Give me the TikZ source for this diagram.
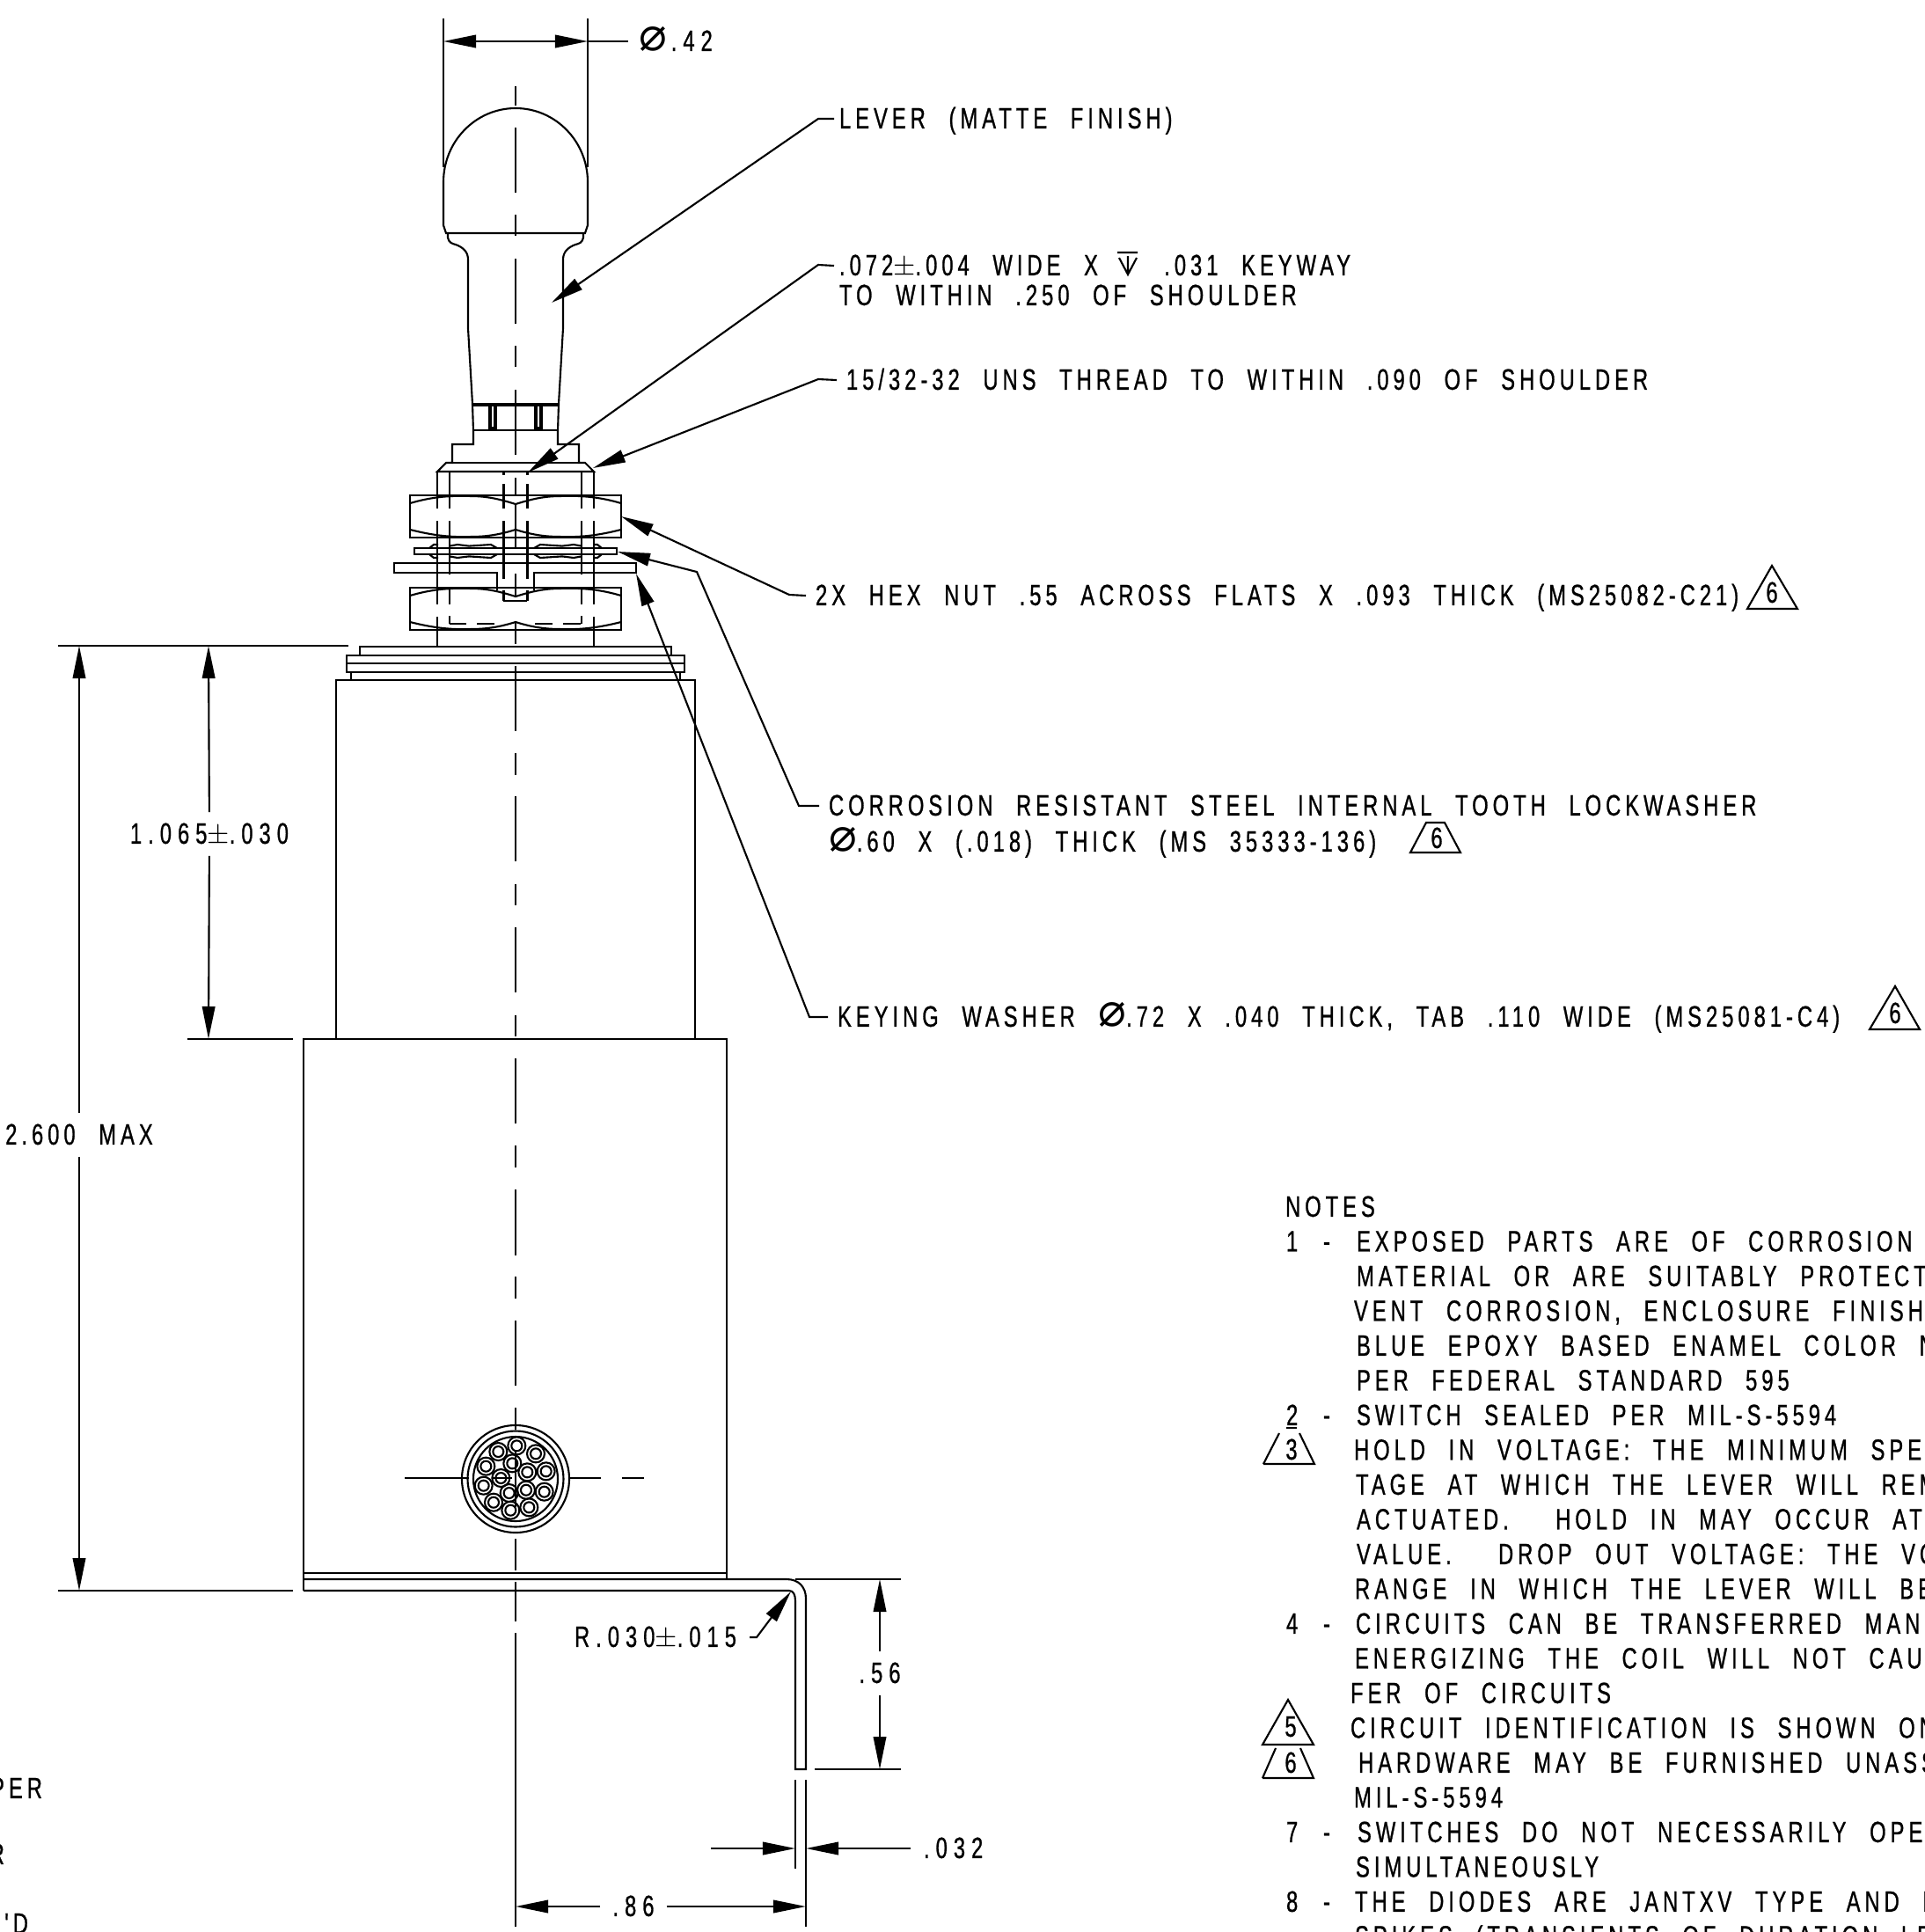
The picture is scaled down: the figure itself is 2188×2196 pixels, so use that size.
\documentclass[tikz,border=0pt]{standalone}
\usepackage{amsmath}
\usepackage{amssymb}
\usepackage{fontspec}
\usepackage{xcolor}
\usetikzlibrary{arrows.meta}
\newfontfamily\dwgfont[LetterSpace=15,FakeStretch=0.71,WordSpace=2.3,FakeBold=0.8]{Liberation Sans}
\newfontfamily\valfont[LetterSpace=21,FakeStretch=0.71,WordSpace=2.3,FakeBold=0.8]{Liberation Sans}
\newfontfamily\symfont{DejaVu Sans}
\newcommand{\dwgtext}{\dwgfont\fontsize{9.5pt}{11pt}\selectfont}
\newcommand{\valtext}{\valfont\fontsize{9.5pt}{11pt}\selectfont}
\newcommand{\dia}{{\symfont\fontsize{15pt}{15pt}\selectfont ⌀}}
\newcommand{\plusmin}{$\pm$}
\tikzset{
    part/.style={line width=0.6pt},
    lbl/.style={anchor=west,inner sep=0pt,font=\dwgtext,text height=6.2pt,text depth=0pt},
    dimtxt/.style={inner sep=0.13cm,font=\valtext,text height=6.2pt,text depth=0pt},
    dgt/.style={inner sep=0pt,font=\dwgtext,text height=6.2pt,text depth=0pt}
}
\begin{document}
\begin{tikzpicture}[x=0.01cm,y=-0.01cm,>={Triangle[length=3.7mm,width=1.45mm]},part]
    \useasboundingbox (0,0) rectangle (2188,2196);
    \clip (0,0) rectangle (2188,2196);
    % center line
    \foreach \ya/\yb in {98/120,145/219,244/268,294/368,393/417,443/517,543/563,572/623,652/677,708/732,
        757/831,856/881,905/979,1005/1029,1054/1128,1154/1178,1203/1277,1302/1327,1352/1427,1451/1476,
        1501/1575,1600/1625,1650/1713,1749/1785,1798/1843,1856/2190}
        \draw (586,\ya) -- (586,\yb);
    % lever
    \draw (504,207) arc (180:360:82 and 84) -- (668,256) -- (665,265) -- (507,265) -- (504,256) -- cycle;
    \foreach \s in {-1,1}
        \draw ({586+\s*77},265) -- ({586+\s*77},270) .. controls ({586+\s*76},276) and ({586+\s*72},277) .. ({586+\s*68},278)
            .. controls ({586+\s*60},281) and ({586+\s*54},286) .. ({586+\s*54},295) -- ({586+\s*54},373) -- ({586+\s*49},459) -- ({586+\s*48},490);
    \draw (537,459) -- (635,459) (537,461) -- (635,461) (538,489) -- (634,489);
    \foreach \s in {-1,1} {
        \draw ({586+\s*22},459) -- ({586+\s*22},488) -- ({586+\s*30},488) -- ({586+\s*30},459);
        \draw ({586+\s*24},461) -- ({586+\s*24},486) -- ({586+\s*28},486) -- ({586+\s*28},461);
    }
    % bushing
    \draw (538,490) -- (538,505) -- (514,505) -- (514,526) -- (507,526) -- (497,536) -- (675,536) -- (665,526) -- (658,526) -- (658,505) -- (634,505) -- (634,490);
    \draw (507,526) -- (665,526);
    \foreach \s in {-1,1} {
        \foreach \ya/\yb in {536/578,592/687,701/735}
            \draw ({586+\s*89},\ya) -- ({586+\s*89},\yb);
        \foreach \ya/\yb in {536/578,592/653,668/687,700/709}
            \draw ({586+\s*75},\ya) -- ({586+\s*75},\yb);
        \foreach \ya/\yb in {536/540,550/578,592/658,671/683}
            \draw ({586+\s*13.5},\ya) -- ({586+\s*13.5},\yb);
    }
    \draw (572,683) -- (599,683);
    \foreach \xa/\xb in {511/530,542/562,608/628,640/660}
        \draw (\xa,709) -- (\xb,709);
    % nuts
    \foreach \ny in {0,105} {
        \draw (466,563+\ny) rectangle (706,611+\ny);
        \draw (466,572+\ny) .. controls (490,565+\ny) and (510,563+\ny) .. (536,564+\ny) .. controls (555,564+\ny) and (570,568+\ny) .. (586,573+\ny)
            .. controls (602,568+\ny) and (617,564+\ny) .. (636,564+\ny) .. controls (662,563+\ny) and (682,565+\ny) .. (706,572+\ny);
        \draw (466,602+\ny) .. controls (490,608+\ny) and (510,611+\ny) .. (536,610+\ny) .. controls (555,610+\ny) and (570,607+\ny) .. (586,602+\ny)
            .. controls (602,607+\ny) and (617,610+\ny) .. (636,610+\ny) .. controls (662,611+\ny) and (682,608+\ny) .. (706,602+\ny);
    }
    % lockwasher and keying washer
    \draw (471,623) rectangle (701,630);
    \foreach \s in {-1,1} {
        \foreach \ya/\yb in {623/619,630/634}
            \draw ({586+\s*98},\ya) -- ({586+\s*93},\yb) -- ({586+\s*88},\yb) ({586+\s*75},{\ya+(\yb-\ya)*.6}) -- ({586+\s*66},\yb) -- ({586+\s*53},{\ya+(\yb-\ya)*.6}) -- ({586+\s*28},\yb) -- ({586+\s*21},\ya);
    }
    \draw (565,671) -- (565,651) -- (448,651) -- (448,640) -- (723,640) -- (723,651) -- (607,651) -- (607,671);
    % flange
    \draw (409,745) -- (409,735) -- (763,735) -- (763,745);
    \draw (394,745) rectangle (778,764);
    \draw (394,754) -- (778,754);
    \draw (399,764) -- (399,773) (773,764) -- (773,773);
    % body
    \draw (382,1181) -- (382,773) -- (790,773) -- (790,1181);
    \draw (345,1808) -- (345,1181) -- (826,1181) -- (826,1795);
    \draw (345,1788) -- (826,1788);
    \draw (345,1795) -- (894,1795) .. controls (908,1795) and (916,1804) .. (916,1817) -- (916,2011) -- (904,2011) -- (904,1820) .. controls (904,1813) and (902,1808) .. (897,1808) -- (345,1808);
    % cable
    \draw (586,1681) circle (61);
    \draw (586,1681) circle (54.5);
    \draw (586,1681) circle (48);
    \foreach \wx/\wy in {262/130,199/150,327/157,157/200,247/190,298/220,362/217,208/240,149/266,236/291,294/281,356/287,183/323,241/350,304/340} {
        \draw ({500+\wx/3},{1600+\wy/3}) circle (10);
        \draw ({500+\wx/3},{1600+\wy/3}) circle (6);
    }
    \draw (460,1680) -- (533,1680) (560,1680) -- (582,1680) (646,1680) -- (683,1680) (707,1680) -- (732,1680);
    % dimensions
    \draw (504,21) -- (504,190) (668,21) -- (668,190);
    \node[lbl,font=\valtext] (dimDia) at (725,47) {\dia\hspace{0.05cm}.42};
    \coordinate (diaLeft) at (504,47);
    \coordinate (diaRight) at (668,47);
    \draw[<->] (diaLeft) -- (diaRight);
    \draw (diaRight) -- ([xshift=-0.11cm]dimDia.west);
    \draw (66,734) -- (396,734) (213,1181) -- (333,1181) (66,1808) -- (333,1808);
    \node[dimtxt] (dimBody) at (238,948) {1.065\plusmin.030};
    \coordinate (bodyTop) at (237,734);
    \coordinate (bodyBot) at (237,1181);
    \draw[->] (dimBody) -- (bodyTop);
    \draw[->] (dimBody) -- (bodyBot);
    \node[dimtxt,font=\dwgtext] (dimTotal) at (90,1290) {2.600 MAX};
    \coordinate (totalTop) at (90,734);
    \coordinate (totalBot) at (90,1808);
    \draw[->] (dimTotal) -- (totalTop);
    \draw[->] (dimTotal) -- (totalBot);
    \draw (904,1795) -- (1024,1795) (926,2011) -- (1024,2011);
    \node[dimtxt] (dimTab) at (1000,1902) {.56};
    \coordinate (tabTop) at (1000,1795);
    \coordinate (tabBot) at (1000,2011);
    \draw[->] (dimTab) -- (tabTop);
    \draw[->] (dimTab) -- (tabBot);
    \draw (904,2023) -- (904,2124) (916,2023) -- (916,2190);
    \node[lbl,font=\valtext] (dimThick) at (1049,2101) {.032};
    \coordinate (thickIn) at (904,2101);
    \coordinate (thickFrom) at (808,2101);
    \coordinate (thickOut) at (916,2101);
    \draw[->] (thickFrom) -- (thickIn);
    \draw[->] ([xshift=-0.14cm]dimThick.west) -- (thickOut);
    \node[dimtxt] (dimOff) at (720,2167) {.86};
    \coordinate (offLeft) at (586,2167);
    \coordinate (offRight) at (916,2167);
    \draw[->] (dimOff) -- (offLeft);
    \draw[->] (dimOff) -- (offRight);
    \node[lbl,anchor=east,font=\valtext] (dimRad) at (838,1861) {R.030\plusmin.015};
    \coordinate (radTip) at (899,1809);
    \coordinate (radElbow) at (860,1861);
    \draw[->] ([xshift=0.14cm]dimRad.east) -- (radElbow) -- (radTip);
    % callouts
    \node[lbl] (lblLever) at (953,135) {LEVER (MATTE FINISH)};
    \coordinate (leverElbow) at (930,135);
    \coordinate (leverTip) at (627,344);
    \draw[->] ([xshift=-0.05cm]lblLever.west) -- (leverElbow) -- (leverTip);
    \node[lbl] (lblKey) at (953,302) {.072\plusmin.004 WIDE X \hspace{0.22cm} .031 KEYWAY};
    \draw (1270,287) -- (1293,287) (1282,291) -- (1282,312) (1272,293) -- (1282,312) -- (1292,293);
    \node[lbl] (lblKeyB) at (953,336) {TO WITHIN .250 OF SHOULDER};
    \coordinate (keyElbow) at (930,301);
    \coordinate (keyTip) at (600,537);
    \draw[->] ([xshift=-0.05cm]lblKey.west) -- (keyElbow) -- (keyTip);
    \node[lbl] (lblThread) at (961,432) {15/32-32 UNS THREAD TO WITHIN .090 OF SHOULDER};
    \coordinate (threadElbow) at (930,431);
    \coordinate (threadTip) at (674,532);
    \draw[->] ([xshift=-0.1cm]lblThread.west) -- (threadElbow) -- (threadTip);
    \node[lbl] (lblNut) at (926,677) {2X HEX NUT .55 ACROSS FLATS X .093 THICK (MS25082-C21)};
    \coordinate (nutElbow) at (897,676);
    \coordinate (nutTip) at (706,587);
    \draw[->] ([xshift=-0.1cm]lblNut.west) -- (nutElbow) -- (nutTip);
    \node[lbl] (lblLock) at (941,916) {CORROSION RESISTANT STEEL INTERNAL TOOTH LOCKWASHER};
    \node[lbl] (lblLockB) at (941,957) {\dia.60 X (.018) THICK (MS 35333-136)};
    \coordinate (lockElbow) at (908,916);
    \coordinate (lockKnee) at (792,650);
    \coordinate (lockTip) at (702,627);
    \draw[->] ([xshift=-0.1cm]lblLock.west) -- (lockElbow) -- (lockKnee) -- (lockTip);
    \node[lbl] (lblWasher) at (951,1156) {KEYING WASHER \dia.72 X .040 THICK, TAB .110 WIDE (MS25081-C4)};
    \coordinate (washerElbow) at (920,1156);
    \coordinate (washerTip) at (723,652);
    \draw[->] ([xshift=-0.1cm]lblWasher.west) -- (washerElbow) -- (washerTip);
    % flags
    \draw (1986,692) -- (2014,643) -- (2043,692) -- cycle;
    \node[dgt] (flagNut) at (2014,674) {6};
    \draw (1603,969) -- (1621,935) -- (1642,935) -- (1660,969) -- cycle;
    \node[dgt] (flagLock) at (1633,953) {6};
    \draw (2125,1170) -- (2154,1121) -- (2182,1170) -- cycle;
    \node[dgt] (flagWasher) at (2154,1152) {6};
    \draw (1436,1664) -- (1454,1629) (1477,1629) -- (1494,1664) -- (1436,1664);
    \draw (1462,1623) -- (1474,1623);
    \node[dgt] (flagThree) at (1468,1648) {3};
    \draw (1435,1983) -- (1464,1932) -- (1493,1983) -- cycle;
    \node[dgt] (flagFive) at (1467,1963) {5};
    \draw (1435,2021) -- (1450,1987) (1478,1987) -- (1493,2021) -- (1435,2021);
    \node[dgt] (flagSix) at (1467,2004) {6};
    % notes
    \node[lbl] (notesHead) at (1460,1372) {NOTES};
    \foreach \xp/\txt [count=\i] in {1541/{EXPOSED PARTS ARE OF CORROSION F},1541/{MATERIAL OR ARE SUITABLY PROTECT},
        1538/{VENT CORROSION, ENCLOSURE FINISHED},1541/{BLUE EPOXY BASED ENAMEL COLOR NO},1541/{PER FEDERAL STANDARD 595},
        1541/{SWITCH SEALED PER MIL-S-5594},1538/{HOLD IN VOLTAGE: THE MINIMUM SPECI},1540/{TAGE AT WHICH THE LEVER WILL REMA},
        1541/{ACTUATED.~ HOLD IN MAY OCCUR AT},1541/{VALUE.~ DROP OUT VOLTAGE: THE VO},1539/{RANGE IN WHICH THE LEVER WILL BE},
        1540/{CIRCUITS CAN BE TRANSFERRED MANU},1539/{ENERGIZING THE COIL WILL NOT CAUS},1534/{FER OF CIRCUITS},
        1534/{CIRCUIT IDENTIFICATION IS SHOWN ON},1543/{HARDWARE MAY BE FURNISHED UNASS},1538/{MIL-S-5594},
        1542/{SWITCHES DO NOT NECESSARILY OPE},1540/{SIMULTANEOUSLY},1539/{THE DIODES ARE JANTXV TYPE AND LIM},1539/{SPIKES (TRANSIENTS OF DURATION LE}}
        \node[lbl] (note\i) at (\xp,{1372+39.5*\i}) {\txt};
    \foreach \num/\ln in {1/1,2/6,4/12,7/18,8/20} {
        \node[lbl] (noteNum\ln) at (1461,{1372+39.5*\ln}) {\num};
        \node[lbl] (noteDash\ln) at (1503,{1372+39.5*\ln}) {-};
    }
    % cut off text at the left edge
    \node[lbl,anchor=east] (edgeA) at (49,2033) {PER};
    \node[lbl,anchor=east] (edgeB) at (6,2108) {R};
    \node[lbl,anchor=east] (edgeC) at (33,2187) {'D};
\end{tikzpicture}
\end{document}
